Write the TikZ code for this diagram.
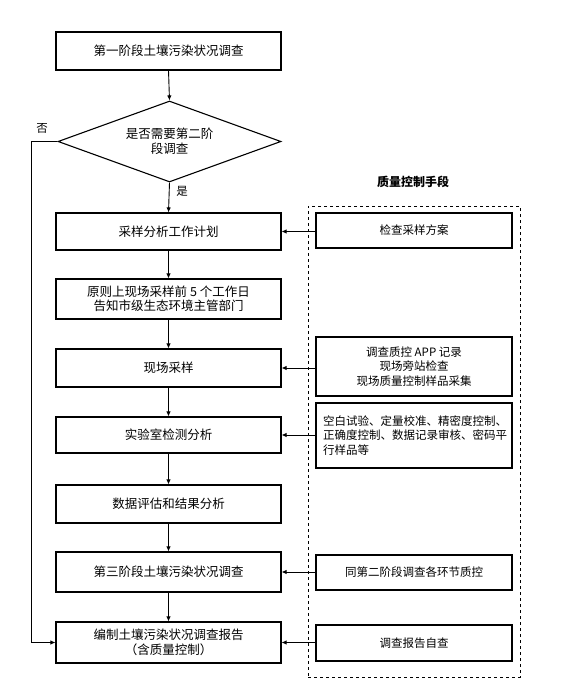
\documentclass[tikz,border=0pt]{standalone}
\usepackage{fontspec}
\setmainfont{Noto Sans CJK SC}
\usetikzlibrary{shapes.geometric,arrows.meta}
\tikzset{
  lbox/.style={draw=black, line width=1.1pt, minimum width=225pt, inner sep=0pt, align=center, font=\fontsize{12.5}{14.5}\selectfont},
  rbox/.style={draw=black, line width=1.1pt, minimum width=196pt, inner sep=0pt, align=center, font=\fontsize{11.5}{14.5}\selectfont},
  arr/.style={draw=black, line width=0.9pt, -{Latex[length=5pt,width=4.5pt]}},
  lab/.style={font=\fontsize{11.5}{13}\selectfont, inner sep=0pt}
}
\begin{document}
\begin{tikzpicture}[x=1pt,y=-1pt]
\useasboundingbox (0,0) rectangle (569,687);
% left column
\node[lbox, minimum height=38pt] (b1) at (168.5,51) {第一阶段土壤污染状况调查};
\node[draw=black, line width=1.1pt, diamond, aspect=2.75, inner sep=0pt, minimum width=223pt, minimum height=81pt, align=center, font=\fontsize{12.5}{15}\selectfont] (d) at (169.5,141.5) {是否需要第二阶\\段调查};
\node[lbox, minimum height=37pt] (b2) at (168.5,231.5) {采样分析工作计划};
\node[lbox, minimum height=40pt] (b3) at (168.5,299) {原则上现场采样前 5 个工作日\\告知市级生态环境主管部门};
\node[lbox, minimum height=38pt] (b4) at (168.5,368) {现场采样};
\node[lbox, minimum height=36pt] (b5) at (168.5,435) {实验室检测分析};
\node[lbox, minimum height=38pt] (b6) at (168.5,504) {数据评估和结果分析};
\node[lbox, minimum height=40pt] (b7) at (168.5,572) {第三阶段土壤污染状况调查};
\node[lbox, minimum height=41pt] (b8) at (168.5,642.5) {编制土壤污染状况调查报告\\（含质量控制）};
% right column
\node[font=\bfseries\fontsize{12}{14}\selectfont] (t) at (413,182) {质量控制手段};
\node[draw=black, dashed, line width=0.9pt, minimum width=212pt, minimum height=471pt, inner sep=0pt] (qc) at (414,441.5) {};
\node[rbox, minimum height=35pt] (r1) at (414,230.5) {检查采样方案};
\node[rbox, minimum height=59pt] (r2) at (414,366.5) {调查质控 APP 记录\\现场旁站检查\\现场质量控制样品采集};
\node[rbox, minimum height=65pt, text width=182pt, align=left] (r3) at (414,435.5) {空白试验、定量校准、精密度控制、\\正确度控制、数据记录审核、密码平\\行样品等};
\node[rbox, minimum height=35pt] (r4) at (414,572.5) {同第二阶段调查各环节质控};
\node[rbox, minimum height=36pt] (r5) at (414,643) {调查报告自查};
% vertical flow
\draw[arr] (b1.south) -- (d.north);
\draw[arr] (d.south) -- (b2.north);
\draw[arr] (b2.south) -- (b3.north);
\draw[arr] (b3.south) -- (b4.north);
\draw[arr] (b4.south) -- (b5.north);
\draw[arr] (b5.south) -- (b6.north);
\draw[arr] (b6.south) -- (b7.north);
\draw[arr] (b7.south) -- (b8.north);
% no branch
\coordinate (n1) at (31,0);
\draw[arr] (d.west) -- (d.west -| n1) -- (n1 |- b8.west) -- (b8.west);
\node[lab] (no) at (42,128) {否};
\node[lab] (yes) at (182,191) {是};
% quality control arrows
\draw[arr] (r1.west |- b2.east) -- (b2.east);
\draw[arr] (r2.west |- b4.east) -- (b4.east);
\draw[arr] (r3.west |- b5.east) -- (b5.east);
\draw[arr] (r4.west |- b7.east) -- (b7.east);
\draw[arr] (r5.west |- b8.east) -- (b8.east);
\end{tikzpicture}
\end{document}
